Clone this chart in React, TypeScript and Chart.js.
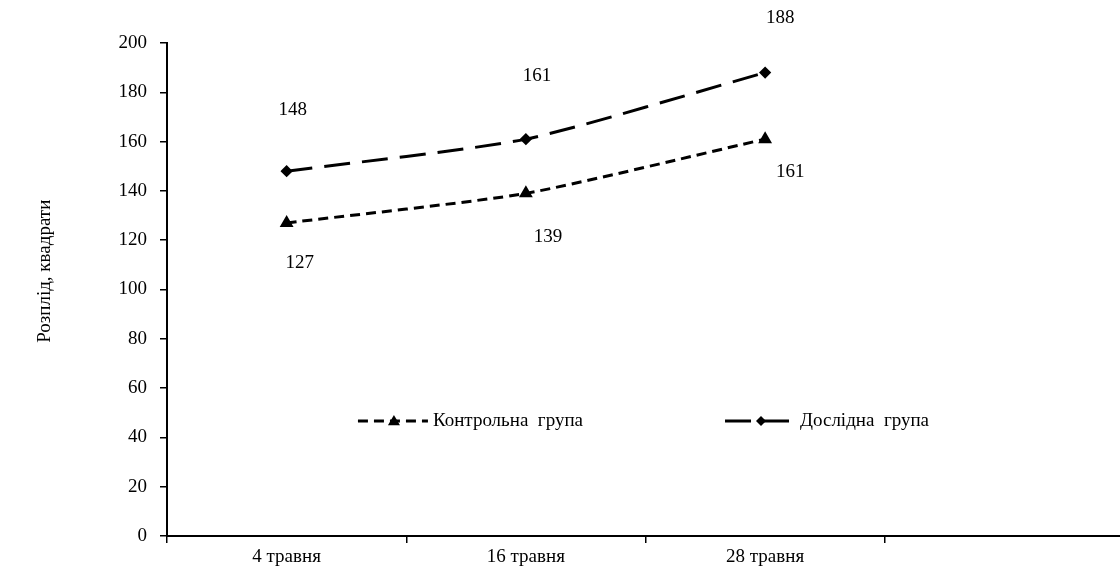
import React, { useEffect, useRef } from "react";
import { Chart, registerables } from "chart.js";

Chart.register(...registerables);

const categories = ["4 травня", "16 травня", "28 травня", ""];
const controlValues = [127, 139, 161, null];
const experimentValues = [148, 161, 188, null];
const seriesNames = ["Контрольна  група", "Дослідна  група"];
const yMin = 0;
const yMax = 200;
const yStep = 20;
const yTitle = "Розплід, квадрати";

const FONT = "'Liberation Serif', 'Times New Roman', serif";
const FS = 19;

// label offsets (style) relative to each point
const labelOffsets = [
  [
    [13, 40],
    [22, 44],
    [25, 33],
  ],
  [
    [6, -61],
    [11, -63],
    [15, -55],
  ],
];

function drawMarker(ctx: CanvasRenderingContext2D, style: string, x: number, y: number, r: number) {
  ctx.save();
  ctx.setLineDash([]);
  ctx.fillStyle = "#000";
  ctx.beginPath();
  if (style === "triangle") {
    ctx.moveTo(x, y - r);
    ctx.lineTo(x + r, y + r * 0.7);
    ctx.lineTo(x - r, y + r * 0.7);
  } else {
    ctx.moveTo(x, y - r);
    ctx.lineTo(x + r, y);
    ctx.lineTo(x, y + r);
    ctx.lineTo(x - r, y);
  }
  ctx.closePath();
  ctx.fill();
  ctx.restore();
}

const valueLabels = {
  id: "valueLabels",
  afterDatasetsDraw(chart: any) {
    const ctx = chart.ctx as CanvasRenderingContext2D;
    ctx.save();
    ctx.font = `${FS}px ${FONT}`;
    ctx.fillStyle = "#000";
    ctx.textAlign = "center";
    ctx.textBaseline = "middle";
    chart.data.datasets.forEach((ds: any, di: number) => {
      const meta = chart.getDatasetMeta(di);
      meta.data.forEach((pt: any, i: number) => {
        const v = ds.data[i];
        if (v === null || v === undefined) return;
        const off = labelOffsets[di][i] || [0, 0];
        ctx.fillText(String(v), pt.x + off[0], pt.y + off[1]);
      });
    });
    ctx.restore();
  },
};

const axisTitle = {
  id: "axisTitle",
  afterDraw(chart: any) {
    const ctx = chart.ctx as CanvasRenderingContext2D;
    const area = chart.chartArea;
    ctx.save();
    ctx.font = `${FS}px ${FONT}`;
    ctx.fillStyle = "#000";
    ctx.textAlign = "center";
    ctx.textBaseline = "middle";
    ctx.translate(45, area.top + area.height * 0.463);
    ctx.rotate(-Math.PI / 2);
    ctx.fillText(yTitle, 0, 0);
    ctx.restore();
  },
};

const innerLegend = {
  id: "innerLegend",
  afterDraw(chart: any) {
    const ctx = chart.ctx as CanvasRenderingContext2D;
    const area = chart.chartArea;
    const y = area.bottom - 115;
    const sample = 70;
    const gapText = 5;
    const gapItems = 142;
    ctx.save();
    ctx.font = `${FS}px ${FONT}`;
    const widths = chart.data.datasets.map((ds: any) => sample + gapText + ctx.measureText(ds.label).width);
    const total = widths.reduce((a: number, b: number) => a + b, 0) + gapItems * (widths.length - 1);
    let x = (167 + 1120) / 2 - total / 2;
    chart.data.datasets.forEach((ds: any, di: number) => {
      ctx.strokeStyle = "#000";
      ctx.lineWidth = ds.borderWidth;
      ctx.setLineDash(ds.borderDash);
      ctx.beginPath();
      ctx.moveTo(x, y);
      ctx.lineTo(x + sample, y);
      ctx.stroke();
      drawMarker(ctx, ds.pointStyle, x + sample / 2 + 1, y, ds.pointRadius + 1);
      ctx.fillStyle = "#000";
      ctx.textAlign = "left";
      ctx.textBaseline = "middle";
      ctx.fillText(ds.label, x + sample + gapText, y);
      x += widths[di] + gapItems;
    });
    ctx.restore();
  },
};

export default function App() {
  const ref = useRef<HTMLCanvasElement | null>(null);
  useEffect(() => {
    if (!ref.current) return;
    const chart = new Chart(ref.current, {
      type: "line",
      data: {
        labels: categories,
        datasets: [
          {
            label: seriesNames[0],
            data: controlValues,
            borderColor: "#000",
            backgroundColor: "#000",
            borderWidth: 3,
            borderDash: [10, 6],
            pointStyle: "triangle",
            pointRadius: 5,
            pointBackgroundColor: "#000",
            pointBorderColor: "#000",
            tension: 0.2,
            fill: false,
          },
          {
            label: seriesNames[1],
            data: experimentValues,
            borderColor: "#000",
            backgroundColor: "#000",
            borderWidth: 3,
            borderDash: [26, 12],
            pointStyle: "rectRot",
            pointRadius: 4,
            pointBackgroundColor: "#000",
            pointBorderColor: "#000",
            tension: 0.2,
            fill: false,
          },
        ] as any,
      },
      options: {
        animation: false,
        responsive: true,
        maintainAspectRatio: false,
        layout: { padding: { left: 30, top: 43, right: 0, bottom: 0 } },
        plugins: {
          legend: { display: false },
          tooltip: { enabled: false },
        },
        scales: {
          x: {
            type: "category",
            offset: true,
            grid: {
              offset: true,
              drawOnChartArea: false,
              drawTicks: true,
              tickLength: 7,
              color: "#000",
              lineWidth: 1.5,
            },
            border: { display: true, color: "#000", width: 2 },
            ticks: {
              color: "#000",
              font: { family: FONT, size: FS },
              padding: 3,
              maxRotation: 0,
              autoSkip: false,
            },
            afterFit: (s: any) => {
              s.height = 38;
            },
          },
          y: {
            min: yMin,
            max: yMax,
            grid: {
              drawOnChartArea: false,
              drawTicks: true,
              tickLength: 7,
              color: "#000",
              lineWidth: 1.5,
            },
            border: { display: true, color: "#000", width: 2 },
            ticks: {
              stepSize: yStep,
              color: "#000",
              font: { family: FONT, size: FS },
              padding: 13,
            },
            title: { display: false, text: yTitle },
            afterFit: (s: any) => {
              s.width = 167 - 30;
            },
          },
        },
      } as any,
      plugins: [valueLabels, innerLegend, axisTitle],
    });
    return () => chart.destroy();
  }, []);
  return (
    <div style={{ position: "fixed", left: 0, top: 0, width: 1120, height: 574, overflow: "hidden", background: "#fff" }}>
      <div style={{ position: "relative", width: 1132, height: 574 }}>
        <canvas ref={ref} />
      </div>
    </div>
  );
}
